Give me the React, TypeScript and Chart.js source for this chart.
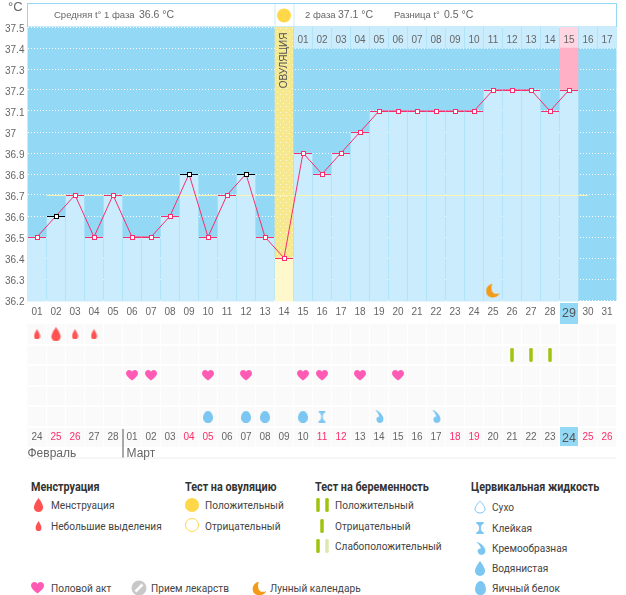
import React, { useEffect, useRef } from "react";
import { Chart, registerables } from "chart.js";

Chart.register(...registerables);

const TEXT_FONT = '"Liberation Sans"';
const LEGEND_FONT = 'Roboto';

const cycleDays = Array.from({ length: 31 }, (_, i) => i + 1);
const temperatureValues = [36.5, 36.6, 36.7, 36.5, 36.7, 36.5, 36.5, 36.6, 36.8, 36.5, 36.7, 36.8, 36.5, 36.4, 36.9, 36.8, 36.9, 37.0, 37.1, 37.1, 37.1, 37.1, 37.1, 37.1, 37.2, 37.2, 37.2, 37.1, 37.2];
const blackMarkerDays = [2, 9, 12];
const yTickValues = [37.5, 37.4, 37.3, 37.2, 37.1, 37, 36.9, 36.8, 36.7, 36.6, 36.5, 36.4, 36.3, 36.2];
const ovulationDay = 14;
const todayDay = 29;
const coverTemperature = 36.698;
const coverDays = [1.5, 30];
const moonPoints = [{ x: 25, y: 36.245 }];
const secondPhaseLabels = ["01", "02", "03", "04", "05", "06", "07", "08", "09", "10", "11", "12", "13", "14", "15", "16", "17"];
const dateLabels = ["24", "25", "26", "27", "28", "01", "02", "03", "04", "05", "06", "07", "08", "09", "10", "11", "12", "13", "14", "15", "16", "17", "18", "19", "20", "21", "22", "23", "24", "25", "26"];
const weekendDays = [2, 3, 9, 10, 16, 17, 23, 24, 30, 31];
const rowLabels = ["menstruation", "test", "intercourse", "medicine", "fluid"];
const spottingDays = [1, 3, 4];
const menstruationDays = [2];
const pregnancyTestDays = [26, 27, 28];
const intercourseDays = [6, 7, 10, 12, 15, 16, 18, 20];
const eggWhiteDays = [10, 12, 13, 15];
const stickyDays = [16];
const creamyDays = [19, 22];

const BLUE = "#93D8F5";
const LIGHT = "#CAECFD";
const GREY = "#666666";
const PINK = "#F92E6C";
const TICK_SIZE = 10;
const AXIS_BOTTOM = 36.195;

const PATHS: Record<string, string> = {
  drop: "M12 0C12 0 22 10 22 16A10 8 0 0 1 2 16C2 10 12 0 12 0Z",
  heart: "M12 23C4 16 0 12 0 7C0 3 3 0 6.5 0C9 0 11 1.5 12 4C13 1.5 15 0 17.5 0C21 0 24 3 24 7C24 12 20 16 12 23Z",
  egg: "M12 0C18 0 22 8 22 14C22 20 18 24 12 24C6 24 2 20 2 14C2 8 6 0 12 0Z",
  sticky: "M3 0H21V3C16 5 14 8 14 12C14 16 16 19 21 21V24H3V21C8 19 10 16 10 12C10 8 8 5 3 3Z",
  cream: "M3 0C10 1 16 4 21 11C24 15 23 21 18 23C13 25 7 23 6 18C5 14 8 11 13 12C11 7 7 3 3 0Z",
  moon: "M11 1C5 2 1 7 1 13C1 19 6 23 12 23C17 23 21 20 23 16C20 18 15 18 12 15C9 12 9 5 11 1Z",
  bar: "M9 2A3 2 0 0 1 15 2V22A3 2 0 0 1 9 22Z",
};

function icon(path: string, color: string, w: number, h: number) {
  const c = document.createElement("canvas");
  c.width = w;
  c.height = h;
  const g = c.getContext("2d")!;
  g.scale(w / 24, h / 24);
  g.fillStyle = color;
  g.fill(new Path2D(PATHS[path]));
  return c;
}

function marker(color: string) {
  const c = document.createElement("canvas");
  c.width = 18;
  c.height = 6;
  const g = c.getContext("2d")!;
  g.fillStyle = color;
  g.fillRect(0, 3, 18, 1);
  g.fillRect(7, 1, 5, 5);
  g.fillStyle = "#fff";
  g.fillRect(8, 2, 3, 3);
  return c;
}

function dots() {
  const c = document.createElement("canvas");
  c.width = 6;
  c.height = 6;
  const g = c.getContext("2d")!;
  g.fillStyle = "#F5E88F";
  g.fillRect(0, 0, 6, 6);
  g.fillStyle = "#FDF9DC";
  g.fillRect(1, 1, 1, 1);
  g.fillRect(4, 4, 1, 1);
  return g.createPattern(c, "repeat")!;
}

const toPoints = (days: number[], y: string) => days.map((x) => ({ x, y }));

function TemperatureChart() {
  const ref = useRef<HTMLCanvasElement>(null);
  useEffect(() => {
    const red = marker(PINK);
    const black = marker("#000000");
    const moon = icon("moon", "#F39A17", 15, 15);
    const tempPoints = temperatureValues.map((y, i) => ({ x: i + 1, y }));
    const chrome = {
      id: "chrome",
      beforeDraw(chart: any) {
        const { ctx, chartArea: a, scales } = chart;
        const x = scales.x;
        ctx.save();
        ctx.fillStyle = BLUE;
        ctx.fillRect(a.left, a.top, a.width, a.height + 1);
        const cx = x.getPixelForValue(todayDay);
        ctx.fillRect(cx - 9, 303, 18, 21);
        ctx.fillRect(a.left - 0.5, 3, a.width + 1, 24);
        ctx.fillStyle = "#fff";
        ctx.fillRect(a.left + 0.5, 4, a.width - 1, 22.5);
        const sx = x.getPixelForValue(ovulationDay);
        ctx.fillStyle = LIGHT;
        ctx.fillRect(sx - 9.5, 4, 1, 23);
        ctx.fillRect(sx + 9.5, 4, 1, 23);
        ctx.fillStyle = "#FFD84A";
        ctx.beginPath();
        ctx.arc(sx, 15.5, 7, 0, Math.PI * 2);
        ctx.fill();
        ctx.fillStyle = GREY;
        ctx.textBaseline = "middle";
        ctx.font = `13px ${TEXT_FONT}`;
        ctx.fillText("°C", 8, 7);
        const head = (s: string, px: number, size: number) => {
          ctx.font = `${size}px ${TEXT_FONT}`;
          ctx.fillText(s, px, 15.5);
        };
        head("Средняя t° 1 фаза", 54, 9.5);
        head("36.6 °C", 139, 10.5);
        head("2 фаза", 305, 9.5);
        head("37.1 °C", 338, 10.5);
        head("Разница t°", 394, 9.5);
        head("0.5 °C", 444, 10.5);
        ctx.restore();
      },
      afterDatasetsDraw(chart: any) {
        const { ctx, scales } = chart;
        const x = scales.x;
        ctx.save();
        ctx.fillStyle = GREY;
        ctx.font = `${TICK_SIZE}px ${TEXT_FONT}`;
        ctx.textAlign = "center";
        ctx.textBaseline = "middle";
        secondPhaseLabels.forEach((s, i) => ctx.fillText(s, x.getPixelForValue(15 + i), 40));
        ctx.translate(x.getPixelForValue(ovulationDay) + 0.5, 60.5);
        ctx.rotate(-Math.PI / 2);
        ctx.fillStyle = "#555";
        ctx.fillText("ОВУЛЯЦИЯ", 0, 0);
        ctx.restore();
      },
    };
    const chart = new Chart(ref.current!, {
      type: "bar",
      data: {
        datasets: [
          {
            type: "line",
            data: tempPoints,
            borderColor: PINK,
            borderWidth: 1,
            tension: 0,
            order: 1,
            pointStyle: (c: any) => (blackMarkerDays.includes(c.raw?.x) ? black : red),
            pointRadius: 3,
          },
          { type: "scatter", data: moonPoints, pointStyle: moon, pointRadius: 7, order: 1 },
          {
            type: "line",
            data: coverDays.map((x) => ({ x, y: coverTemperature })),
            borderColor: "#FFF5B0",
            borderWidth: 1,
            pointRadius: 0,
            order: 2,
          },
          { data: tempPoints.filter((p) => p.x !== ovulationDay), backgroundColor: LIGHT, order: 3, base: AXIS_BOTTOM, clip: false },
          { data: [{ x: ovulationDay, y: temperatureValues[ovulationDay - 1] }], backgroundColor: "#FFF8CC", order: 3, base: AXIS_BOTTOM, clip: false },
          { data: [{ x: ovulationDay, y: [temperatureValues[ovulationDay - 1], 37.5] }], backgroundColor: dots(), order: 3 },
          { data: [{ x: todayDay, y: [temperatureValues[todayDay - 1], 37.4] }], backgroundColor: "#FFAFC6", order: 3 },
          {
            data: secondPhaseLabels.map((_, i) => ({ x: 15 + i, y: [37.4, 37.5] })),
            backgroundColor: secondPhaseLabels.map((_, i) => (15 + i === todayDay ? "#FFD6E2" : LIGHT)),
            order: 3,
          },
        ] as any,
      },
      options: {
        animation: false,
        responsive: false,
        layout: { autoPadding: false, padding: { left: 5, top: 27, right: 9.5, bottom: 0 } },
        datasets: { bar: { grouped: false, barThickness: 18, borderWidth: 0 } },
        plugins: { legend: { display: false }, tooltip: { enabled: false } },
        scales: {
          x: {
            type: "linear",
            min: 0.5,
            max: 31.5,
            offset: false,
            grid: { display: false, drawTicks: false },
            border: { display: false },
            afterBuildTicks: (s: any) => {
              s.ticks = cycleDays.map((value) => ({ value }));
            },
            afterFit: (s: any) => {
              s.height = 24;
            },
            ticks: {
              autoSkip: false,
              maxRotation: 0,
              padding: 6,
              color: (c: any) => (c.tick?.value === todayDay ? "#555" : GREY),
              font: (c: any) => ({ family: TEXT_FONT, size: c.tick?.value === todayDay ? 12.5 : TICK_SIZE }),
              callback: (v: any) => String(v).padStart(2, "0"),
            },
          },
          y: {
            type: "linear",
            min: 36.2,
            max: 37.5,
            afterBuildTicks: (s: any) => {
              s.ticks = yTickValues.map((value) => ({ value }));
            },
            afterFit: (s: any) => {
              s.width = 22.5;
            },
            border: { display: false, dash: [1, 2] },
            grid: { color: "#FFFFFF", lineWidth: 1, drawTicks: false },
            ticks: {
              autoSkip: false,
              padding: 0,
              crossAlign: "far",
              labelOffset: 2,
              color: GREY,
              font: { family: TEXT_FONT, size: TICK_SIZE },
              callback: (v: any) => String(v),
            },
          },
        },
      } as any,
      plugins: [chrome],
    });
    return () => chart.destroy();
  }, []);
  return <canvas ref={ref} width={626} height={324} style={{ position: "absolute", left: 0, top: 0, width: 626, height: 324 }} />;
}

function SymptomChart() {
  const ref = useRef<HTMLCanvasElement>(null);
  useEffect(() => {
    const cells = {
      id: "cells",
      beforeDraw(chart: any) {
        const { ctx, chartArea: a, scales } = chart;
        const x = scales.x;
        ctx.save();
        ctx.fillStyle = "#FAFAFA";
        ctx.fillRect(a.left, 0, a.width, 123);
        ctx.fillStyle = "#FFFFFF";
        cycleDays.forEach((d) => ctx.fillRect(x.getPixelForValue(d + 0.5) - 0.5, 0, 1, 123));
        for (let i = 1; i <= 5; i++) ctx.fillRect(a.left, Math.round((a.height * i) / 5) - 1, a.width, 2);
        ctx.fillStyle = BLUE;
        ctx.fillRect(x.getPixelForValue(todayDay) - 9, 103, 18, 19);
        ctx.fillStyle = "#555";
        ctx.fillRect(x.getPixelForValue(5.5), 105, 1, 29);
        ctx.fillStyle = "#EEEEEE";
        ctx.fillRect(a.left, 133.5, a.width, 1);
        ctx.fillStyle = GREY;
        ctx.textBaseline = "middle";
        ctx.font = `12px ${TEXT_FONT}`;
        ctx.fillText("Февраль", a.left, 129.5);
        ctx.fillText("Март", x.getPixelForValue(5.5) + 4, 129.5);
        ctx.restore();
      },
    };
    const set = (days: number[], row: string, style: HTMLCanvasElement) => ({
      data: toPoints(days, row),
      pointStyle: style,
      pointRadius: 7,
    });
    const chart = new Chart(ref.current!, {
      type: "scatter",
      data: {
        datasets: [
          set(spottingDays, rowLabels[0], icon("drop", "#FF5252", 7, 10)),
          set(menstruationDays, rowLabels[0], icon("drop", "#FF5252", 11, 14)),
          set(pregnancyTestDays, rowLabels[1], icon("bar", "#9FC30F", 14, 14)),
          set(intercourseDays, rowLabels[2], icon("heart", "#FF5BB5", 12, 11)),
          set(eggWhiteDays, rowLabels[4], icon("egg", "#7CC6F2", 12, 12)),
          set(stickyDays, rowLabels[4], icon("sticky", "#7CC6F2", 9, 12)),
          set(creamyDays, rowLabels[4], icon("cream", "#7CC6F2", 10, 13)),
        ] as any,
      },
      options: {
        animation: false,
        responsive: false,
        layout: { autoPadding: false, padding: { left: 27.5, top: 0, right: 9.5, bottom: 0 } },
        plugins: { legend: { display: false }, tooltip: { enabled: false } },
        scales: {
          x: {
            type: "linear",
            min: 0.5,
            max: 31.5,
            grid: { display: false, drawTicks: false },
            border: { display: false },
            afterBuildTicks: (s: any) => {
              s.ticks = cycleDays.map((value) => ({ value }));
            },
            afterFit: (s: any) => {
              s.height = 35;
            },
            ticks: {
              autoSkip: false,
              maxRotation: 0,
              padding: 4,
              color: (c: any) => (c.tick?.value === todayDay ? "#555" : weekendDays.includes(c.tick?.value) ? PINK : GREY),
              font: (c: any) => ({ family: TEXT_FONT, size: c.tick?.value === todayDay ? 12.5 : TICK_SIZE }),
              callback: (v: any) => dateLabels[v - 1],
            },
          },
          y: {
            type: "category",
            labels: rowLabels,
            offset: true,
            display: false,
            afterFit: (s: any) => {
              s.width = 0;
            },
          },
        },
      } as any,
      plugins: [cells],
    });
    return () => chart.destroy();
  }, []);
  return <canvas ref={ref} width={626} height={138} style={{ position: "absolute", left: 0, top: 324, width: 626, height: 138 }} />;
}

function Txt({ x, y, bold, children }: { x: number; y: number; bold?: boolean; children: React.ReactNode }) {
  return (
    <span
      style={{
        position: "absolute",
        left: x,
        top: y + 1,
        transform: `translateY(-50%) scaleX(${bold ? 0.9 : 0.92})`,
        transformOrigin: "left center",
        whiteSpace: "nowrap",
        fontFamily: LEGEND_FONT,
        fontSize: bold ? 12 : 11,
        fontWeight: bold ? 700 : 400,
        color: bold ? "#333" : "#444",
        lineHeight: "16px",
      }}
    >
      {children}
    </span>
  );
}

function Ico({ x, y, path, color, w, h }: { x: number; y: number; path: string; color: string; w: number; h: number }) {
  return (
    <svg viewBox="0 0 24 24" preserveAspectRatio="none" width={w} height={h} style={{ position: "absolute", left: x - w / 2, top: y - h / 2 }}>
      <path d={PATHS[path]} fill={color} />
    </svg>
  );
}

const legendHeads: [string, number, number][] = [
  ["Менструация", 31, 486],
  ["Тест на овуляцию", 185, 486],
  ["Тест на беременность", 315, 486],
  ["Цервикальная жидкость", 471, 486],
];
const legendItems: [string, number, number][] = [
  ["Менструация", 51, 505],
  ["Небольшие выделения", 51, 526],
  ["Положительный", 205, 505],
  ["Отрицательный", 205, 526],
  ["Положительный", 335, 505],
  ["Отрицательный", 335, 526],
  ["Слабоположительный", 335, 546],
  ["Сухо", 492, 507],
  ["Клейкая", 492, 528],
  ["Кремообразная", 492, 548],
  ["Водянистая", 492, 568],
  ["Яичный белок", 492, 588],
  ["Половой акт", 51, 588],
  ["Прием лекарств", 151, 588],
  ["Лунный календарь", 270, 588],
];

function Legend() {
  return (
    <>
      {legendHeads.map(([t, x, y]) => (
        <Txt key={t} x={x} y={y} bold>
          {t}
        </Txt>
      ))}
      {legendItems.map(([t, x, y]) => (
        <Txt key={t + x} x={x} y={y}>
          {t}
        </Txt>
      ))}
      <Ico x={38.5} y={505} path="drop" color="#FF5252" w={11} h={14} />
      <Ico x={38.5} y={526} path="drop" color="#FF5252" w={7} h={10} />
      <svg width={16} height={16} style={{ position: "absolute", left: 184, top: 497 }}>
        <circle cx={8} cy={8} r={7} fill="#FFD84A" />
      </svg>
      <svg width={16} height={16} style={{ position: "absolute", left: 184, top: 517 }}>
        <circle cx={8} cy={8} r={6.5} fill="#fff" stroke="#FFD84A" />
      </svg>
      <Ico x={317.5} y={505} path="bar" color="#9FC30F" w={14} h={14} />
      <Ico x={326.5} y={505} path="bar" color="#9FC30F" w={14} h={14} />
      <Ico x={322} y={526} path="bar" color="#9FC30F" w={14} h={14} />
      <Ico x={317.5} y={546} path="bar" color="#9FC30F" w={14} h={14} />
      <Ico x={326.5} y={546} path="bar" color="#DCE8B0" w={14} h={14} />
      <svg viewBox="0 0 24 24" width={12} height={14} style={{ position: "absolute", left: 474, top: 500 }}>
        <path d={PATHS.drop} fill="#fff" stroke="#7CC6F2" strokeWidth={2} />
      </svg>
      <Ico x={480} y={528} path="sticky" color="#7CC6F2" w={10} h={12} />
      <Ico x={480.5} y={548} path="cream" color="#7CC6F2" w={11} h={13} />
      <Ico x={480} y={568} path="drop" color="#7CC6F2" w={12} h={15} />
      <Ico x={480} y={588} path="egg" color="#7CC6F2" w={13} h={14} />
      <Ico x={37.5} y={588} path="heart" color="#FF5BB5" w={13} h={12} />
      <svg width={16} height={16} style={{ position: "absolute", left: 131, top: 580 }}>
        <circle cx={8} cy={8} r={7.5} fill="#C8C8C8" />
        <line x1={4.5} y1={11.5} x2={11.5} y2={4.5} stroke="#fff" strokeWidth={2.5} />
      </svg>
      <Ico x={259} y={588} path="moon" color="#F39A17" w={15} h={15} />
    </>
  );
}

export default function App() {
  return (
    <div style={{ position: "absolute", left: 0, top: 0, width: 626, height: 595, background: "#FFFFFF", overflow: "hidden" }}>
      <TemperatureChart />
      <SymptomChart />
      <Legend />
    </div>
  );
}
